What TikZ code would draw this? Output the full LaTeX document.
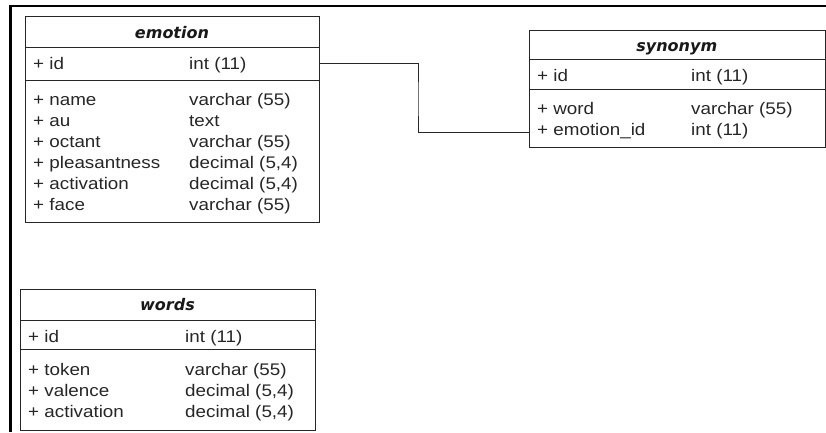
\documentclass[tikz,border=0pt]{standalone}
\usepackage{fontspec}
\setmainfont{Liberation Sans}[FakeStretch=1.12]
\newfontfamily\headfont{DejaVu Sans}
\begin{document}
\begin{tikzpicture}[x=1pt,y=-1pt,
  table/.style={draw=black!85, line width=1pt, inner sep=0pt, anchor=north west},
  rule/.style={draw=black!85, line width=1pt},
  title/.style={font=\headfont\bfseries\itshape\fontsize{16}{16}\selectfont, anchor=base, inner sep=0pt, text=black!90},
  field/.style={font=\fontsize{16.8}{16.8}\selectfont, anchor=base west, inner sep=0pt, text=black!85},
  link/.style={draw=black!85, line width=1pt},
  frame/.style={draw=black, line width=2.3pt}]
\useasboundingbox (0,0) rectangle (826,432);

% outer frame (top and left edges)
\draw[frame] (826,6.2) -- (10.5,6.2) -- (10.5,432);

% ---------- emotion ----------
\node[table, minimum width=294pt, minimum height=206pt] (emotion) at (25,16) {};
\draw[rule] (25,47) -- (319,47);
\draw[rule] (25,80) -- (319,80);
\node[title] (emotionT) at (172,38.5) {emotion};
\node[field] (e1) at (33,69.5) {+ id};      \node[field] (e1t) at (189,69.5) {int (11)};
\node[field] (e2) at (33,105.5) {+ name};   \node[field] (e2t) at (189,105.5) {varchar (55)};
\node[field] (e3) at (33,126.5) {+ au};     \node[field] (e3t) at (189,126.5) {text};
\node[field] (e4) at (33,147.5) {+ octant}; \node[field] (e4t) at (189,147.5) {varchar (55)};
\node[field] (e5) at (33,168.5) {+ pleasantness}; \node[field] (e5t) at (189,168.5) {decimal (5,4)};
\node[field] (e6) at (33,189.5) {+ activation};   \node[field] (e6t) at (189,189.5) {decimal (5,4)};
\node[field] (e7) at (33,210.5) {+ face};   \node[field] (e7t) at (189,210.5) {varchar (55)};

% ---------- synonym ----------
\node[table, minimum width=295.5pt, minimum height=117pt] (synonym) at (529,30) {};
\draw[rule] (529,59) -- (824.5,59);
\draw[rule] (529,89) -- (824.5,89);
\node[title] (synonymT) at (676.75,51.5) {synonym};
\node[field] (s1) at (537,81.5) {+ id};          \node[field] (s1t) at (691,81.5) {int (11)};
\node[field] (s2) at (537,114.5) {+ word};       \node[field] (s2t) at (691,114.5) {varchar (55)};
\node[field] (s3) at (537,135.5) {+ emotion\_id}; \node[field] (s3t) at (691,135.5) {int (11)};

% ---------- words ----------
\node[table, minimum width=295pt, minimum height=141pt] (words) at (20,289) {};
\draw[rule] (20,320) -- (315,320);
\draw[rule] (20,349) -- (315,349);
\node[title] (wordsT) at (167.5,310.5) {words};
\node[field] (w1) at (28,342) {+ id};           \node[field] (w1t) at (185,342) {int (11)};
\node[field] (w2) at (28,375.5) {+ token};      \node[field] (w2t) at (185,375.5) {varchar (55)};
\node[field] (w3) at (28,396.5) {+ valence};    \node[field] (w3t) at (185,396.5) {decimal (5,4)};
\node[field] (w4) at (28,417.5) {+ activation}; \node[field] (w4t) at (185,417.5) {decimal (5,4)};

% ---------- relation emotion.id -> synonym.emotion_id ----------
\path (emotion.north east) ++(0,47) coordinate (epk);
\path (synonym.north west) ++(0,102) coordinate (sfk);
\coordinate (bend) at (418,100);
\draw[link] (epk) -| (bend) |- (sfk);
\end{tikzpicture}
\end{document}
